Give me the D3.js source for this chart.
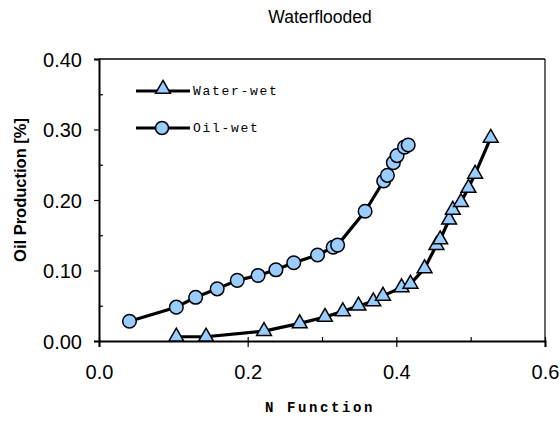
<!DOCTYPE html>
<html>
<head>
<meta charset="utf-8">
<script src="https://cdn.jsdelivr.net/npm/d3@7"></script>
<style>
  html, body { margin: 0; padding: 0; background: #fff; }
  svg { display: block; }
</style>
</head>
<body>
<svg id="chart" width="560" height="421"></svg>
<script>
// Oil production vs. N function for waterflooded cores
const waterWetN    = [0.104, 0.144, 0.222, 0.270, 0.304, 0.328, 0.349, 0.369, 0.382, 0.407, 0.419, 0.438, 0.454, 0.459, 0.471, 0.476, 0.487, 0.497, 0.506, 0.527];
const waterWetProd = [0.006, 0.006, 0.014, 0.025, 0.034, 0.042, 0.050, 0.056, 0.064, 0.076, 0.081, 0.103, 0.136, 0.144, 0.172, 0.186, 0.197, 0.217, 0.237, 0.288];

const oilWetN    = [0.041, 0.104, 0.130, 0.159, 0.186, 0.214, 0.238, 0.262, 0.294, 0.315, 0.321, 0.358, 0.383, 0.388, 0.396, 0.401, 0.411, 0.416];
const oilWetProd = [0.028, 0.048, 0.062, 0.074, 0.086, 0.093, 0.101, 0.111, 0.122, 0.133, 0.136, 0.184, 0.227, 0.235, 0.253, 0.263, 0.275, 0.278];

const xMajorTicks = [0.0, 0.2, 0.4, 0.6];
const xMinorTicks = [0.1, 0.3, 0.5];
const yMajorTicks = [0.0, 0.1, 0.2, 0.3, 0.4];
const yMinorTicks = [0.05, 0.15, 0.25, 0.35];

const seriesNames = ["Water-wet", "Oil-wet"];
const titleText = "Waterflooded";
const xTitle = "N Function";
const yTitle = "Oil Production [%]";

const svg = d3.select("#chart");
const x = d3.scaleLinear().domain([0, 0.6]).range([99, 545]);
const y = d3.scaleLinear().domain([0, 0.4]).range([341, 59]);

const fill = "#99ccff";
const sansFont = "'Liberation Sans', Arial, sans-serif";
const monoFont = "'Liberation Mono', 'Courier New', monospace";

// Title
svg.append("text")
  .attr("x", 320).attr("y", 23)
  .attr("text-anchor", "middle")
  .style("font-family", sansFont).style("font-size", "17.5px")
  .text(titleText);

// Plot frame: top and right edges
svg.append("line").attr("x1", x(0)).attr("x2", x(0.6)).attr("y1", y(0.4)).attr("y2", y(0.4))
  .attr("stroke", "#000").attr("stroke-width", 1.5);
svg.append("line").attr("x1", x(0.6)).attr("x2", x(0.6)).attr("y1", y(0.4)).attr("y2", y(0))
  .attr("stroke", "#000").attr("stroke-width", 1.2);

// Y axis
const yAxis = svg.append("g").attr("transform", `translate(${x(0)},0)`)
  .call(d3.axisLeft(y).tickValues(yMajorTicks).tickSize(5).tickPadding(12).tickFormat(d3.format(".2f")));
svg.append("g").attr("transform", `translate(${x(0)},0)`)
  .call(d3.axisLeft(y).tickValues(yMinorTicks).tickSize(-4).tickFormat(""))
  .call(g => g.select(".domain").remove());

// X axis
const xAxis = svg.append("g").attr("transform", `translate(0,${y(0)})`)
  .call(d3.axisBottom(x).tickValues(xMajorTicks).tickSize(6).tickPadding(18).tickFormat(d3.format(".1f")));
svg.append("g").attr("transform", `translate(0,${y(0)})`)
  .call(d3.axisBottom(x).tickValues(xMajorTicks.concat(xMinorTicks)).tickSize(-4).tickFormat(""))
  .call(g => g.select(".domain").remove());

svg.selectAll(".tick line").attr("stroke", "#000").attr("stroke-width", 1.2);
[yAxis, xAxis].forEach(a => {
  a.select(".domain").attr("stroke", "#000").attr("stroke-width", 2);
  a.selectAll("text").style("font-family", sansFont).style("font-size", "20px").attr("fill", "#000");
});
yAxis.selectAll("text").attr("dy", "0.36em");

// Axis titles
svg.append("text")
  .attr("transform", "translate(26,190) rotate(-90)")
  .attr("text-anchor", "middle")
  .style("font-family", sansFont).style("font-size", "16.5px").style("font-weight", "bold")
  .text(yTitle);

svg.append("text")
  .attr("x", 320).attr("y", 412)
  .attr("text-anchor", "middle")
  .style("font-family", monoFont).style("font-size", "14px").style("font-weight", "bold")
  .style("letter-spacing", "2.6px")
  .text(xTitle);

const line = d3.line().x(d => x(d[0])).y(d => y(d[1]));
const tri = d3.symbol().type(d3.symbolTriangle).size(95);

function drawSeries(ns, vals, marker) {
  const pts = ns.map((n, i) => [n, vals[i]]);
  svg.append("path").datum(pts).attr("d", line)
    .attr("fill", "none").attr("stroke", "#000").attr("stroke-width", 3.2).attr("stroke-linejoin", "round");
  const g = svg.append("g");
  if (marker === "triangle") {
    g.selectAll("path").data(pts).join("path")
      .attr("d", tri).attr("transform", d => `translate(${x(d[0])},${y(d[1])})`)
      .attr("fill", fill).attr("stroke", "#000").attr("stroke-width", 1.5);
  } else {
    g.selectAll("circle").data(pts).join("circle")
      .attr("cx", d => x(d[0])).attr("cy", d => y(d[1])).attr("r", 6.8)
      .attr("fill", fill).attr("stroke", "#000").attr("stroke-width", 1.5);
  }
}

drawSeries(waterWetN, waterWetProd, "triangle");
drawSeries(oilWetN, oilWetProd, "circle");

// Legend
const legend = svg.append("g");
[{ name: seriesNames[0], ly: 91, marker: "triangle" }, { name: seriesNames[1], ly: 128, marker: "circle" }]
  .forEach(item => {
    legend.append("line").attr("x1", 136).attr("x2", 190).attr("y1", item.ly).attr("y2", item.ly)
      .attr("stroke", "#000").attr("stroke-width", 3.2);
    if (item.marker === "triangle") {
      legend.append("path").attr("d", tri).attr("transform", `translate(163,${item.ly - 2})`)
        .attr("fill", fill).attr("stroke", "#000").attr("stroke-width", 1.5);
    } else {
      legend.append("circle").attr("cx", 162).attr("cy", item.ly).attr("r", 6.5)
        .attr("fill", fill).attr("stroke", "#000").attr("stroke-width", 1.5);
    }
    legend.append("text").attr("x", 193).attr("y", item.ly + 4)
      .style("font-family", monoFont).style("font-size", "13px")
      .style("letter-spacing", "1.7px")
      .text(item.name);
  });
</script>
</body>
</html>
